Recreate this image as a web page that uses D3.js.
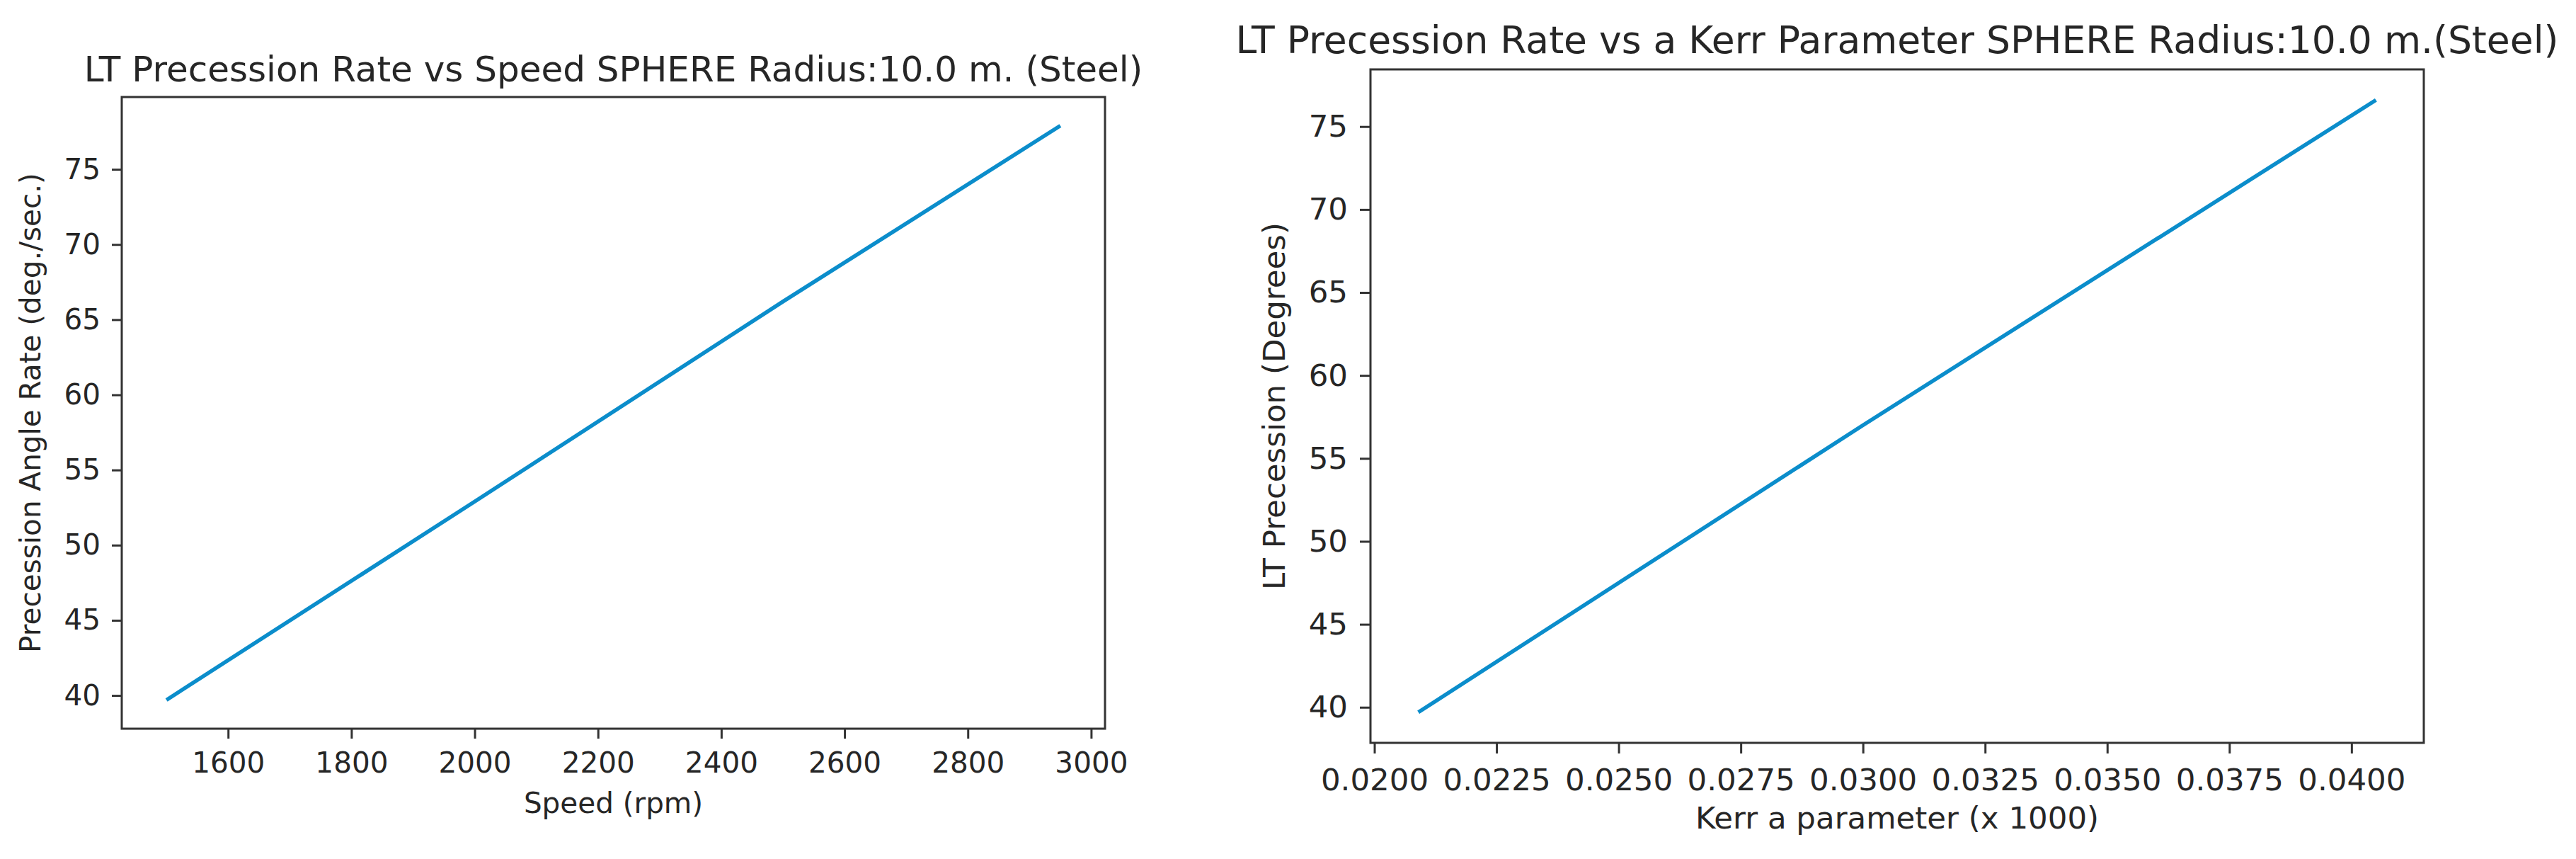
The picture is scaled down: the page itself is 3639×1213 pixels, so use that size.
<!DOCTYPE html>
<html>
<head>
<meta charset="utf-8">
<script src="https://cdnjs.cloudflare.com/ajax/libs/d3/7.8.5/d3.min.js"></script>
<style>
  body { margin: 0; background: #fff; }
  svg { display: block; font-family: 'DejaVu Sans', sans-serif; }
  .frame { fill: none; stroke: #333; stroke-width: 3; }
  .tick line { stroke: #333; stroke-width: 3; }
  .tick text { fill: #262626; }
  .lbl { fill: #262626; }
</style>
</head>
<body>
<svg id="chart" width="3639" height="1213"></svg>
<script>
// left panel: precession rate vs speed
const speeds = [1500, 2000, 2500, 2950];
const rates = [39.7, 52.9, 66.2, 77.9];
const speedTicks = [1600, 1800, 2000, 2200, 2400, 2600, 2800, 3000];
const rateTicks = [40, 45, 50, 55, 60, 65, 70, 75];

// right panel: precession vs Kerr a parameter
const kerrA = [0.0209, 0.0300, 0.0405];
const precession = [39.7, 57.0, 76.6];
const kerrTicks = [0.02, 0.0225, 0.025, 0.0275, 0.03, 0.0325, 0.035, 0.0375, 0.04];
const precTicks = [40, 45, 50, 55, 60, 65, 70, 75];

const svg = d3.select('#chart');
svg.append('rect').attr('width', 3639).attr('height', 1213).attr('fill', '#fff');

// matplotlib-like 5% padding around the data
function padded(vals) {
  const [a, b] = d3.extent(vals);
  const m = (b - a) * 0.05;
  return [a - m, b + m];
}

function panel(opt) {
  const x = d3.scaleLinear().domain(padded(opt.xs)).range([opt.left, opt.right]);
  const y = d3.scaleLinear().domain(padded(opt.ys)).range([opt.bottom, opt.top]);
  const g = svg.append('g');

  const xAxis = d3.axisBottom(x).tickValues(opt.xTicks).tickFormat(opt.xFmt)
    .tickSize(opt.tick).tickPadding(opt.pad);
  const yAxis = d3.axisLeft(y).tickValues(opt.yTicks).tickFormat(d3.format('d'))
    .tickSize(opt.tick).tickPadding(opt.pad + 2);

  const gx = g.append('g').attr('transform', `translate(0, ${opt.bottom})`).call(xAxis);
  const gy = g.append('g').attr('transform', `translate(${opt.left}, 0)`).call(yAxis);
  [gx, gy].forEach((a) => {
    a.select('.domain').remove();
    a.attr('font-family', null).attr('font-size', null);
    a.selectAll('text').style('font-size', opt.font + 'px');
  });

  g.append('path')
    .datum(d3.zip(opt.xs, opt.ys))
    .attr('fill', 'none')
    .attr('stroke', '#0b8dcb')
    .attr('stroke-width', 5.5)
    .attr('d', d3.line().x((d) => x(d[0])).y((d) => y(d[1])));

  g.append('rect').attr('class', 'frame')
    .attr('x', opt.left).attr('y', opt.top)
    .attr('width', opt.right - opt.left).attr('height', opt.bottom - opt.top);

  const cx = (opt.left + opt.right) / 2;
  const cy = (opt.top + opt.bottom) / 2;

  g.append('text').attr('class', 'lbl')
    .attr('x', cx).attr('y', opt.titleY)
    .attr('text-anchor', 'middle')
    .style('font-size', opt.titleFont + 'px')
    .text(opt.title);

  g.append('text').attr('class', 'lbl')
    .attr('x', cx).attr('y', opt.xLabelY)
    .attr('text-anchor', 'middle')
    .style('font-size', opt.font + 'px')
    .text(opt.xLabel);

  g.append('text').attr('class', 'lbl')
    .attr('transform', `translate(${opt.yLabelX}, ${cy}) rotate(-90)`)
    .attr('text-anchor', 'middle')
    .style('font-size', opt.font + 'px')
    .text(opt.yLabel);

  // tick label baseline offset
  gx.selectAll('.tick text').attr('dy', null).attr('y', opt.tickLabelY - opt.bottom);
}

panel({
  xs: speeds, ys: rates, xTicks: speedTicks, yTicks: rateTicks,
  xFmt: d3.format('d'),
  left: 172, right: 1561, top: 137, bottom: 1029,
  tick: 14, pad: 14, font: 40.5, titleFont: 50,
  title: 'LT Precession Rate vs Speed SPHERE Radius:10.0 m. (Steel)',
  titleY: 115,
  xLabel: 'Speed (rpm)', xLabelY: 1148, tickLabelY: 1091,
  yLabel: 'Precession Angle Rate (deg./sec.)', yLabelX: 57
});

panel({
  xs: kerrA, ys: precession, xTicks: kerrTicks, yTicks: precTicks,
  xFmt: d3.format('.4f'),
  left: 1936, right: 3424, top: 98, bottom: 1049,
  tick: 15, pad: 15, font: 43.5, titleFont: 53.5,
  title: 'LT Precession Rate vs a Kerr Parameter SPHERE Radius:10.0 m.(Steel)',
  titleY: 75,
  xLabel: 'Kerr a parameter (x 1000)', xLabelY: 1170, tickLabelY: 1116,
  yLabel: 'LT Precession (Degrees)', yLabelX: 1815
});
</script>
</body>
</html>
